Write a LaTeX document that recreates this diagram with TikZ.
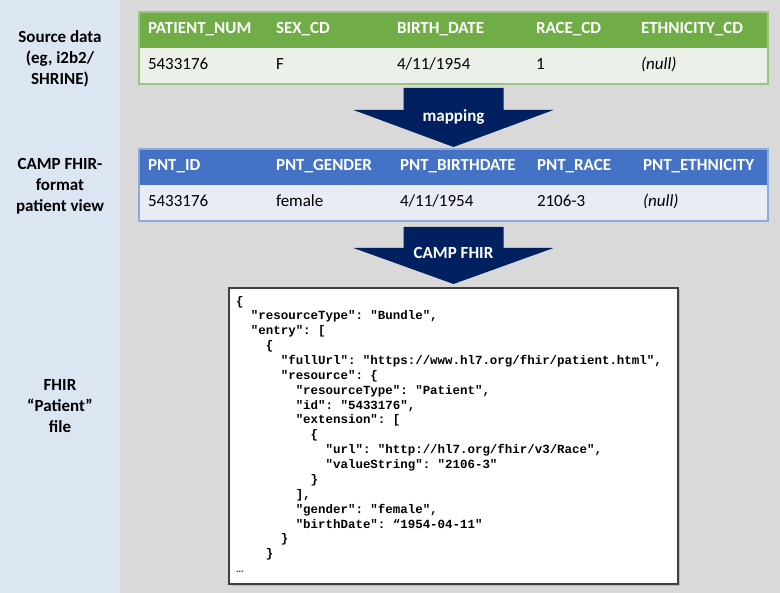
\documentclass[tikz,border=0pt]{standalone}
\usepackage{fontspec}
\setmainfont{Carlito}
\setmonofont{Liberation Mono}
\usetikzlibrary{positioning}
\usetikzlibrary{calc}
\usetikzlibrary{shadows}
\definecolor{sidebg}{HTML}{DCE6F2}
\definecolor{mainbg}{HTML}{D9D9D9}
\definecolor{srcgreen}{HTML}{70AD47}
\definecolor{srcrow}{HTML}{EBF1E9}
\definecolor{srcedge}{HTML}{9BC47E}
\definecolor{viewblue}{HTML}{4472C4}
\definecolor{viewrow}{HTML}{E9EBF5}
\definecolor{viewedge}{HTML}{8EA9DB}
\definecolor{navy}{HTML}{002060}

\begin{document}
\begin{tikzpicture}[
x=1pt, y=-1pt,
every node/.style={inner sep=0, outer sep=0},
rowbox/.style={rectangle, minimum width=629pt, minimum height=36pt},
headtxt/.style={anchor=west, text=white, text height=11pt, text depth=3pt, font=\fontsize{17}{20}\selectfont\bfseries},
celltxt/.style={anchor=west, text height=11pt, text depth=3pt, font=\fontsize{17}{20}\selectfont},
sidetxt/.style={align=center, font=\fontsize{17}{21}\selectfont\bfseries},
arrowtxt/.style={text=white, font=\fontsize{17}{20}\selectfont\bfseries},
blockarrow/.style={fill=navy},
codetxt/.style={align=left, font=\fontsize{12.45}{14.87}\selectfont\ttfamily\bfseries}
]
\useasboundingbox (0,0) rectangle (780,593);
\fill[sidebg] (0,0) rectangle (120,593);
\fill[mainbg] (120,0) rectangle (780,593);

% side labels
\node[sidetxt] (srclab) at (60,59) {Source data\\(eg, i2b2/\\SHRINE)};
\node[sidetxt] (viewlab) at (60,186) {CAMP FHIR-\\format\\patient view};
\node[sidetxt] (filelab) at (60,406) {FHIR\\“Patient”\\file};

% source table
\node[rowbox, fill=srcgreen, anchor=north west] (srchead) at (139,12) {};
\node[rowbox, fill=srcrow, below=0 of srchead] (srcbody) {};
\draw[srcedge, line width=1.2pt] (srchead.north west) rectangle (srcbody.south east);
\foreach \x/\t [count=\i] in {148/PATIENT\_NUM, 276/SEX\_CD, 397/BIRTH\_DATE, 536/RACE\_CD, 641/ETHNICITY\_CD}
  \node[headtxt] (srch\i) at (\x,30) {\t};
\foreach \x/\t [count=\i] in {148/5433176, 276/F, 397/4\slash 11\slash 1954, 536/1, 641/\textit{(null)}}
  \node[celltxt] (srcc\i) at (\x,66) {\t};

% patient view table
\node[rowbox, fill=viewblue, below=65pt of srcbody] (viewhead) {};
\node[rowbox, fill=viewrow, below=0 of viewhead] (viewbody) {};
\draw[viewedge, line width=1.2pt] (viewhead.north west) rectangle (viewbody.south east);
\foreach \x/\t [count=\i] in {148/PNT\_ID, 276/PNT\_GENDER, 400/PNT\_BIRTHDATE, 537/PNT\_RACE, 643/PNT\_ETHNICITY}
  \node[headtxt] (viewh\i) at (\x,167) {\t};
\foreach \x/\t [count=\i] in {148/5433176, 276/female, 400/4\slash 11\slash 1954, 537/2106-3, 643/\textit{(null)}}
  \node[celltxt] (viewc\i) at (\x,203) {\t};

% json file
\node[rectangle, draw=black!75, line width=1.3pt, fill=white, minimum width=449pt, minimum height=296pt,
  drop shadow={shadow xshift=2pt, shadow yshift=-2pt, opacity=0.35}, below=67pt of viewbody] (codebox) {};
\node[codetxt, anchor=north west] (json) at ($(codebox.north west)+(7,8)$) {%
\{\\
~~"resourceType": "Bundle",\\
~~"entry": [\\
~~~~\{\\
~~~~~~"fullUrl": "https://www.hl7.org/fhir/patient.html",\\
~~~~~~"resource": \{\\
~~~~~~~~"resourceType": "Patient",\\
~~~~~~~~"id": "5433176",\\
~~~~~~~~"extension": [\\
~~~~~~~~~~\{\\
~~~~~~~~~~~~"url": "http://hl7.org/fhir/v3/Race",\\
~~~~~~~~~~~~"valueString": "2106-3"\\
~~~~~~~~~~\}\\
~~~~~~~~],\\
~~~~~~~~"gender": "female",\\
~~~~~~~~"birthDate": “1954-04-11"\\
~~~~~~\}\\
~~~~\}\\
{\mdseries …}};

% block arrows
\fill[blockarrow] ($(srcbody.south)+(-50,4)$) -- ++(100,0) -- ++(0,22) -- ++(50,0)
  -- ($(viewhead.north)+(0,-2)$) -- ++(-100,-37) -- ++(50,0) -- cycle;
\node[arrowtxt] (maptxt) at ($(srcbody.south)+(0,33)$) {mapping};
\fill[blockarrow] ($(viewbody.south)+(-50,6)$) -- ++(100,0) -- ++(0,21) -- ++(50,0)
  -- ($(codebox.north)+(0,-4)$) -- ++(-100,-36) -- ++(50,0) -- cycle;
\node[arrowtxt] (camptxt) at ($(viewbody.south)+(0,32)$) {CAMP FHIR};
\end{tikzpicture}
\end{document}
